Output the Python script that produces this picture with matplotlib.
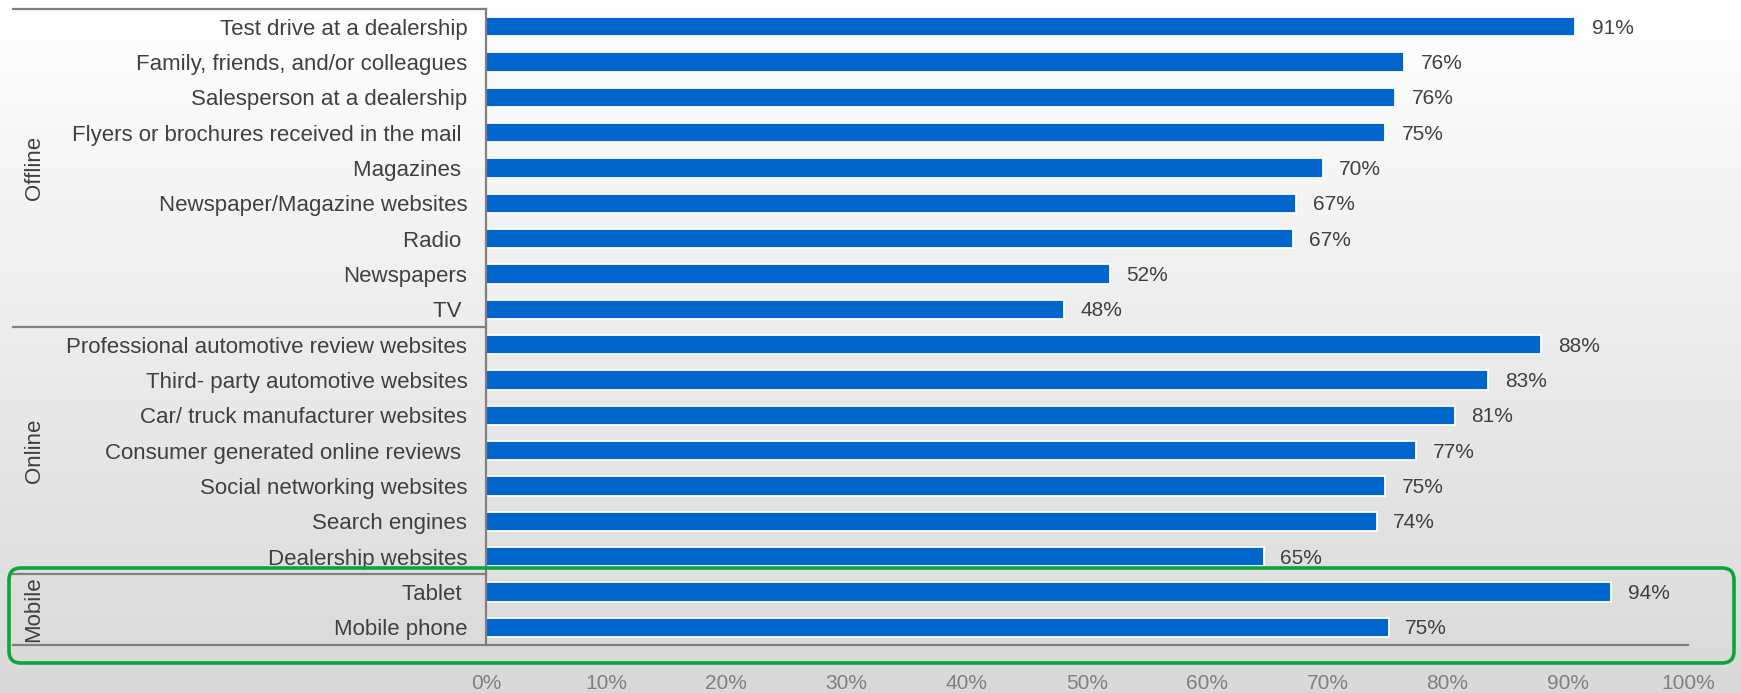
import numpy as np
import matplotlib
matplotlib.use("Agg")
import matplotlib.pyplot as plt
import matplotlib.transforms as mtransforms
from matplotlib.patches import FancyBboxPatch

plt.rcParams['font.family'] = ['Liberation Sans', 'DejaVu Sans']

# ---- data ----
offline_labels = ["Test drive at a dealership", "Family, friends, and/or colleagues",
                  "Salesperson at a dealership", "Flyers or brochures received in the mail ",
                  "Magazines ", "Newspaper/Magazine websites", "Radio ", "Newspapers", "TV "]
offline_values = [90.6, 76.4, 75.6, 74.8, 69.6, 67.4, 67.1, 51.9, 48.1]

online_labels = ["Professional automotive review websites", "Third- party automotive websites",
                 "Car/ truck manufacturer websites", "Consumer generated online reviews ",
                 "Social networking websites", "Search engines", "Dealership websites"]
online_values = [87.8, 83.4, 80.6, 77.4, 74.8, 74.1, 64.7]

mobile_labels = ["Tablet ", "Mobile phone"]
mobile_values = [93.6, 75.1]

groups = ["Offline", "Online", "Mobile"]
x_ticks = [0, 10, 20, 30, 40, 50, 60, 70, 80, 90, 100]
x_tick_labels = [f"{t}%" for t in x_ticks]

labels = offline_labels + online_labels + mobile_labels
values = offline_values + online_values + mobile_values
group_sizes = [len(offline_labels), len(online_labels), len(mobile_labels)]

W, H = 1741, 693
fig = plt.figure(figsize=(W / 100, H / 100), dpi=100)

# background gradient
bg = fig.add_axes([0, 0, 1, 1], zorder=-10)
grad = np.linspace(1.0, 0.85, 256).reshape(-1, 1)
bg.imshow(np.dstack([grad, grad, grad]), aspect='auto', extent=[0, 1, 0, 1],
          origin='upper')
bg.set_axis_off()

ax_l, ax_r, ax_t, ax_b = 486, 1688, 9, 645
ax = fig.add_axes([ax_l / W, 1 - ax_b / H, (ax_r - ax_l) / W, (ax_b - ax_t) / H])
ax.patch.set_alpha(0)

y = np.arange(len(labels))
ax.barh(y, values, height=0.54, color='#0066CC', edgecolor='white', linewidth=1.3, zorder=3)
ax.set_ylim(len(labels) - 0.5, -0.5)
ax.set_xlim(0, 100)

ax.set_yticks(y)
ax.set_yticklabels(labels)
ax.set_xticks(x_ticks)
ax.set_xticklabels(x_tick_labels)
ax.tick_params(axis='y', length=0, pad=13.5, labelsize=16, labelcolor='#404040')
ax.tick_params(axis='x', length=0, pad=21, labelsize=15, labelcolor='#808080')

for s in ['top', 'right', 'bottom', 'left']:
    ax.spines[s].set_visible(False)

for v, yi in zip(values, y):
    ax.annotate(f"{round(v)}%", xy=(v, yi), xytext=(12, -1), textcoords='offset points',
                va='center', ha='left', fontsize=15, color='#404040')

# group separator lines
trans = mtransforms.blended_transform_factory(ax.transAxes, ax.transData)
x_left = (13 - ax_l) / (ax_r - ax_l)
line_kw = dict(color='#808080', lw=1.6, clip_on=False, transform=trans, zorder=4)
bounds = np.concatenate([[0], np.cumsum(group_sizes)]) - 0.5
for i, b in enumerate(bounds):
    xr = 1.0 if i == len(bounds) - 1 else 0.0
    ax.plot([x_left, xr], [b, b], **line_kw)
ax.plot([0, 0], [bounds[0], bounds[-1]], **line_kw)

# group labels
x_grp = (34 - ax_l) / (ax_r - ax_l)
for g, b0, b1 in zip(groups, bounds[:-1], bounds[1:]):
    ax.text(x_grp, (b0 + b1) / 2, g, rotation=90, ha='center', va='center',
            fontsize=16, color='#404040', transform=trans, clip_on=False)

# green highlight box
ov = fig.add_axes([0, 0, 1, 1], zorder=5)
ov.set_xlim(0, W)
ov.set_ylim(H, 0)
ov.set_axis_off()
ov.patch.set_alpha(0)
ov.add_patch(FancyBboxPatch((9, 568), 1725, 95, boxstyle="round,pad=0,rounding_size=12",
                            fill=False, ec='#0BA53A', lw=2.6))

fig.savefig("out.png", dpi=100)
